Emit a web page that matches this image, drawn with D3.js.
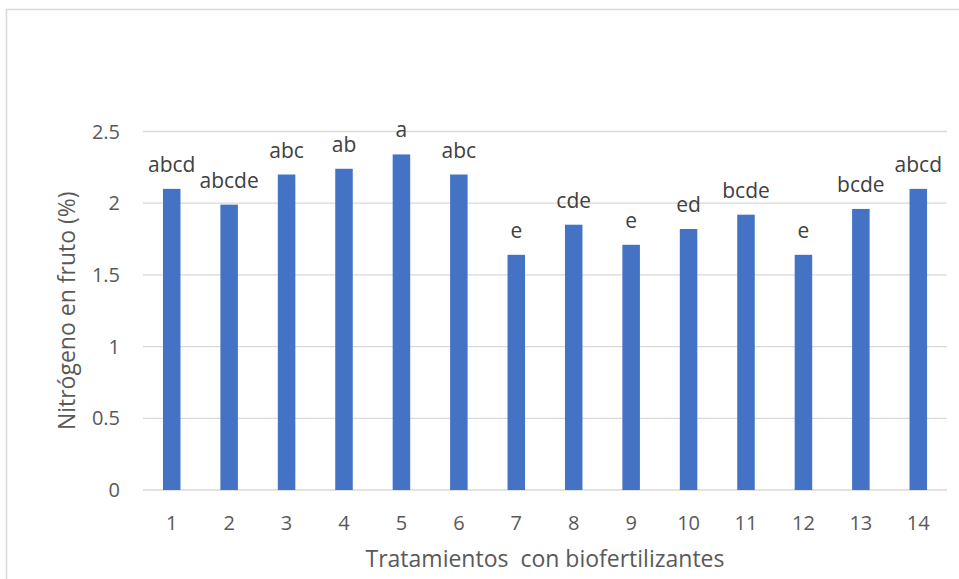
<!DOCTYPE html>
<html>
<head>
<meta charset="utf-8">
<script src="https://cdn.jsdelivr.net/npm/d3@7"></script>
<style>
  body { margin: 0; background: #fff; }
  svg text { font-family: "Open Sans", "Noto Sans", sans-serif; }
</style>
</head>
<body>
<svg id="chart" width="959" height="579"></svg>
<script>
// treatments, nitrogen % and significance letters
const treatments = ["1","2","3","4","5","6","7","8","9","10","11","12","13","14"];
const nitrogen = [2.1, 1.99, 2.2, 2.24, 2.34, 2.2, 1.64, 1.85, 1.71, 1.82, 1.92, 1.64, 1.96, 2.1];
const letters = ["abcd","abcde","abc","ab","a","abc","e","cde","e","ed","bcde","e","bcde","abcd"];
const yTicks = [0, 0.5, 1, 1.5, 2, 2.5];

const data = treatments.map((t, i) => ({ t: t, v: nitrogen[i], lab: letters[i] }));

const svg = d3.select("#chart");
const margin = { left: 143, right: 12, top: 131.5, bottom: 89 };
const W = 959, H = 579;

// chart frame
svg.append("rect")
  .attr("x", 6.5).attr("y", 9.5)
  .attr("width", W).attr("height", H)
  .attr("fill", "none").attr("stroke", "#d9d9d9").attr("stroke-width", 1.5);

const x = d3.scaleBand()
  .domain(treatments)
  .range([margin.left, W - margin.right])
  .padding(0);

const y = d3.scaleLinear()
  .domain([0, 2.5])
  .range([H - margin.bottom, margin.top]);

const barW = x.bandwidth() * 0.305;

// gridlines
svg.append("g")
  .selectAll("line")
  .data(yTicks)
  .join("line")
  .attr("x1", margin.left).attr("x2", W - margin.right)
  .attr("y1", d => y(d)).attr("y2", d => y(d))
  .attr("stroke", "#d9d9d9").attr("stroke-width", 1.3);

// y tick labels
svg.append("g")
  .selectAll("text")
  .data(yTicks)
  .join("text")
  .attr("x", 120)
  .attr("y", d => y(d))
  .attr("dy", "0.35em")
  .attr("text-anchor", "end")
  .attr("fill", "#595959")
  .style("font-size", "20px")
  .text(d => d);

// bars
svg.append("g")
  .selectAll("rect")
  .data(data)
  .join("rect")
  .attr("x", d => x(d.t) + x.bandwidth() / 2 - barW / 2)
  .attr("y", d => y(d.v))
  .attr("width", barW)
  .attr("height", d => y(0) - y(d.v))
  .attr("fill", "#4472c4");

// letters above bars
svg.append("g")
  .selectAll("text")
  .data(data)
  .join("text")
  .attr("x", d => x(d.t) + x.bandwidth() / 2)
  .attr("y", d => y(d.v) - 17)
  .attr("text-anchor", "middle")
  .attr("fill", "#404040")
  .style("font-size", "21px")
  .text(d => d.lab);

// x tick labels
svg.append("g")
  .selectAll("text")
  .data(treatments)
  .join("text")
  .attr("x", d => x(d) + x.bandwidth() / 2)
  .attr("y", 530)
  .attr("text-anchor", "middle")
  .attr("fill", "#595959")
  .style("font-size", "20px")
  .text(d => d);

// axis titles
svg.append("text")
  .attr("x", (margin.left + W - margin.right) / 2)
  .attr("y", 567)
  .attr("text-anchor", "middle")
  .attr("fill", "#595959")
  .style("font-size", "23px")
  .text("Tratamientos\u00a0 con biofertilizantes");

svg.append("text")
  .attr("transform", `translate(75, ${(y(0) + y(2.5)) / 2}) rotate(-90)`)
  .attr("text-anchor", "middle")
  .attr("fill", "#595959")
  .style("font-size", "23px")
  .text("Nitrógeno en fruto (%)");
</script>
</body>
</html>
